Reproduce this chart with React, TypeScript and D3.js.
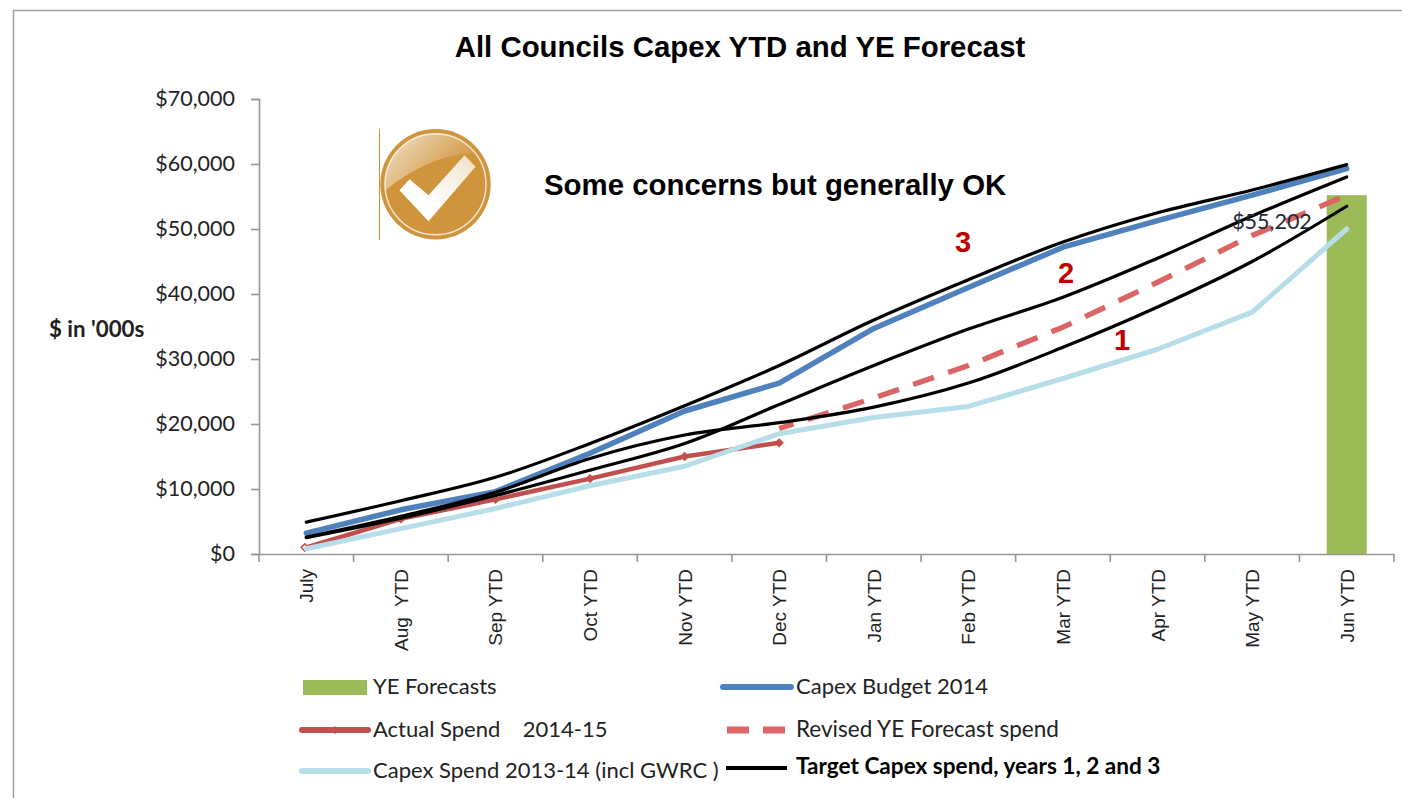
import React, { useEffect, useRef } from "react";
import * as d3 from "d3";

const months = ["July","Aug  YTD","Sep YTD","Oct YTD","Nov YTD","Dec YTD","Jan YTD","Feb YTD","Mar YTD","Apr YTD","May YTD","Jun YTD"];
const yTicks = [0,10000,20000,30000,40000,50000,60000,70000];
const yeForecast = [55202];
const budget = [3200,6800,9600,15500,22000,26300,34700,41000,47200,51300,55200,59300];
const actual = [1000,5400,8400,11600,15000,17100];
const revisedMonths = months.slice(5);
const revised = [19300,24000,29000,34900,41800,49000,55200];
const lastYear = [800,3900,7000,10500,13500,18500,21000,22700,27000,31500,37200,50000];
const target1 = [2600,5800,9500,14700,18300,20200,22600,26300,31800,38000,45000,53500];
const target2 = [2500,5500,9000,12900,17000,23000,29000,34600,39500,45500,52000,58000];
const target3 = [4900,8200,11800,17000,22800,29000,36000,42200,48000,52500,56000,59900];
const sans = "Liberation Sans, Arial, sans-serif";
const body = "Lato, 'Noto Sans', sans-serif";

export default function App() {
  const ref = useRef<SVGSVGElement>(null);
  useEffect(() => {
    const svg = d3.select(ref.current);
    svg.selectAll("*").remove();
    const x = d3.scaleBand().domain(months).range([259, 1394]);
    const cx = (m: string) => x(m)! + x.bandwidth() / 2;
    const y = d3.scaleLinear().domain([0, 70000]).range([554, 99]);
    const defs = svg.append("defs");
    const g1 = defs.append("linearGradient").attr("id","gloss").attr("x1",0).attr("y1",0).attr("x2",1).attr("y2",0.6);
    g1.append("stop").attr("offset","0%").attr("stop-color","#fff").attr("stop-opacity",0.75);
    g1.append("stop").attr("offset","90%").attr("stop-color","#fff").attr("stop-opacity",0.03);
    const g2 = defs.append("linearGradient").attr("id","chk").attr("x1",0).attr("y1",1).attr("x2",1).attr("y2",0);
    g2.append("stop").attr("offset","35%").attr("stop-color","#fff");
    g2.append("stop").attr("offset","100%").attr("stop-color","#f0e0c8");

    svg.append("path").attr("d","M13.5,798V10.5H1402").attr("fill","none").attr("stroke","#a0a0a0").attr("stroke-width",1.5);
    svg.append("text").attr("x",740).attr("y",57).attr("text-anchor","middle").attr("font-family",sans).attr("font-weight",700).attr("font-size",29.4).attr("fill","#000").text("All Councils Capex YTD and YE Forecast");

    const axisColor = "#969696";
    const yG = svg.append("g").attr("transform","translate(259,0)").call(d3.axisLeft(y).tickValues(yTicks).tickSize(8).tickPadding(16).tickFormat((d) => "$" + d3.format(",")(d as number)));
    const xG = svg.append("g").attr("transform","translate(0,554)").call(d3.axisBottom(x).tickSize(0).tickFormat(() => ""));
    [yG,xG].forEach(g => { g.selectAll("path,line").attr("stroke",axisColor).attr("stroke-width",1.6); });
    yG.selectAll("text").attr("font-family",body).attr("font-size",21.5).attr("fill","#222");
    const edges = [...months.map(m => x(m)!), 1394];
    svg.append("g").selectAll("line").data(edges).join("line").attr("x1",d=>d).attr("x2",d=>d).attr("y1",554).attr("y2",562).attr("stroke",axisColor).attr("stroke-width",1.6);
    svg.append("g").selectAll("text").data(months).join("text")
      .attr("transform",d=>`translate(${cx(d)+7},569) rotate(-90)`)
      .attr("text-anchor","end").attr("font-family",sans).attr("font-size",19).attr("fill","#222").style("white-space","pre").text(d=>d);
    svg.append("text").attr("x",49).attr("y",337).attr("font-family",body).attr("font-weight",700).attr("font-size",22.3).attr("fill","#222").text("$ in '000s");

    // bar
    svg.append("rect").attr("x",cx("Jun YTD")-20).attr("width",40).attr("y",y(yeForecast[0])).attr("height",554-y(yeForecast[0])).attr("fill","#9BBB59");

    const line = (xs: string[], curve: d3.CurveFactory = d3.curveLinear) => d3.line<number>().x((_,i)=>cx(xs[i])).y(d=>y(d)).curve(curve);
    const addPath = (d: string | null, stroke: string, w: number, dash?: string, offset = 0) => {
      const p = svg.append("path").attr("d",d).attr("fill","none").attr("stroke",stroke).attr("stroke-width",w).attr("stroke-linejoin","round").attr("stroke-linecap",dash?"butt":"round");
      if (dash) p.attr("stroke-dasharray",dash).attr("stroke-dashoffset",offset);
    };
    addPath(line(revisedMonths)(revised),"#DB6464",5.4,"22 15",7);
    addPath(line(months.slice(0,6))(actual),"#C0504D",4.5);
    svg.append("g").selectAll("path").data(actual).join("path").attr("d",d3.symbol(d3.symbolDiamond2,34)()).attr("transform",(d,i)=>`translate(${cx(months[i])-(i===0?1.5:0)},${y(d)})`).attr("fill",(d,i)=>i===0?"#fff":"#C0504D").attr("stroke","#C0504D").attr("stroke-width",1.5);
    addPath(line(months)(lastYear),"#B7DEE8",5);
    addPath(line(months)(budget),"#4F81BD",5.5);
    [target1,target2,target3].forEach(t => addPath(line(months,d3.curveCatmullRom)(t),"#000",3.2));

    svg.append("text").attr("x",1272).attr("y",229).attr("text-anchor","middle").attr("font-family",body).attr("font-size",21.5).attr("fill","#1f2a3a").text("$55,202");

    // badge
    svg.append("line").attr("x1",379.5).attr("x2",379.5).attr("y1",129).attr("y2",240).attr("stroke","#C98F3A").attr("stroke-width",1);
    const b = svg.append("g").attr("transform","translate(435.5,184.2)");
    b.append("circle").attr("r",55.2).attr("fill","#D0943C");
    b.append("circle").attr("r",50.5).attr("fill","none").attr("stroke","#F5E6D0").attr("stroke-width",1.5);
    b.append("path").attr("d","M-50,6A50,50 0 0 1 40,-30Q-2,-32 -50,6Z").attr("fill","url(#gloss)");
    b.append("path").attr("d","M-36,6L-26,-5L-7,11L29,-29L40,-17.5L-7,37Z").attr("fill","url(#chk)");

    svg.append("text").attr("x",544).attr("y",195).attr("font-family",sans).attr("font-weight",700).attr("font-size",29.4).attr("fill","#000").text("Some concerns but generally OK");

    [["3",963,252],["2",1066,283],["1",1122,350]].forEach(([t,px,py]) => {
      svg.append("text").attr("x",px as number).attr("y",py as number).attr("text-anchor","middle").attr("font-family",sans).attr("font-weight",700).attr("font-size",29).attr("fill","#C00000").text(t as string);
    });

    // legend
    const lg = svg.append("g").attr("font-family",body).attr("font-size",22).attr("fill","#222");
    lg.append("rect").attr("x",303).attr("y",680).attr("width",64).attr("height",15).attr("fill","#9BBB59");
    lg.append("text").attr("x",373).attr("y",694).text("YE Forecasts");
    lg.append("line").attr("x1",723).attr("x2",791).attr("y1",687).attr("y2",687).attr("stroke","#4F81BD").attr("stroke-width",6).attr("stroke-linecap","round");
    lg.append("text").attr("x",796).attr("y",694).text("Capex Budget 2014");
    lg.append("line").attr("x1",302).attr("x2",368).attr("y1",730).attr("y2",730).attr("stroke","#C0504D").attr("stroke-width",6).attr("stroke-linecap","round");
    lg.append("path").attr("d",d3.symbol(d3.symbolDiamond2,40)()).attr("transform","translate(335,730)").attr("fill","#C0504D");
    lg.append("text").attr("x",373).attr("y",737).style("white-space","pre").text("Actual Spend    2014-15");
    lg.append("line").attr("x1",727).attr("x2",787).attr("y1",730).attr("y2",730).attr("stroke","#DB6464").attr("stroke-width",7).attr("stroke-dasharray","22 14");
    lg.append("text").attr("x",796).attr("y",737).attr("font-size",22.5).text("Revised YE Forecast spend");
    lg.append("line").attr("x1",302).attr("x2",368).attr("y1",771).attr("y2",771).attr("stroke","#B7DEE8").attr("stroke-width",6).attr("stroke-linecap","round");
    lg.append("text").attr("x",373).attr("y",778).text("Capex Spend 2013-14 (incl GWRC )");
    lg.append("line").attr("x1",726).attr("x2",787).attr("y1",768).attr("y2",768).attr("stroke","#000").attr("stroke-width",4);
    lg.append("text").attr("x",796).attr("y",774).attr("font-weight",700).attr("font-size",22.6).attr("fill","#000").text("Target Capex spend, years 1, 2 and 3");
  }, []);
  return <svg ref={ref} width={1402} height={798} style={{position:"fixed",left:0,top:0,background:"#fff"}} />;
}
